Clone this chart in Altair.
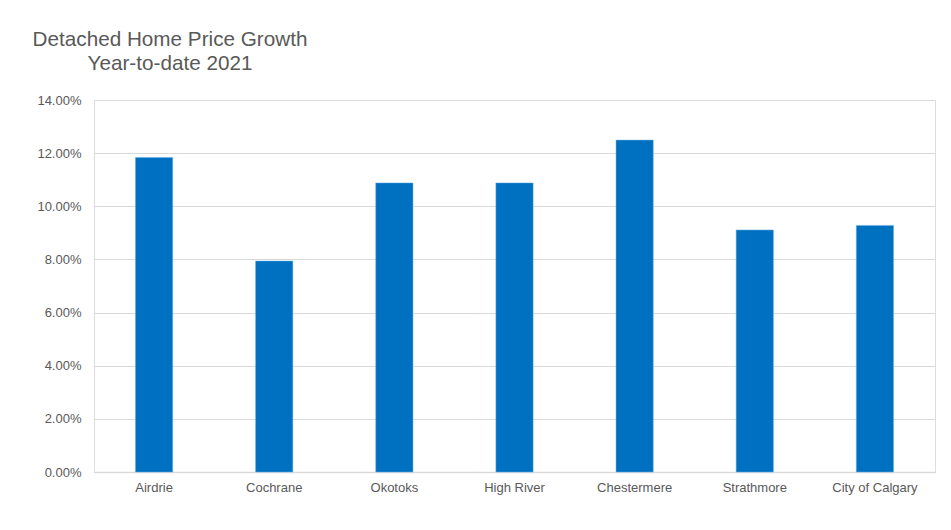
import altair as alt
import pandas as pd

regions = ["Airdrie", "Cochrane", "Okotoks", "High River", "Chestermere", "Strathmore", "City of Calgary"]
growth = [0.1184, 0.0794, 0.1088, 0.1088, 0.1249, 0.0911, 0.0928]
y_ticks = [0.0, 0.02, 0.04, 0.06, 0.08, 0.10, 0.12, 0.14]

df = pd.DataFrame({"region": regions, "growth": growth})

FONT = "Liberation Sans"
GRAY = "#595959"

chart = (
    alt.Chart(df)
    .mark_bar(color="#0070C0", stroke="#6aaee6", strokeWidth=0.5)
    .encode(
        x=alt.X("region:N", sort=regions, title=None,
                scale=alt.Scale(paddingInner=0.69, paddingOuter=0.345),
                axis=alt.Axis(labelAngle=0, labelFont=FONT, labelFontSize=13, labelColor=GRAY,
                              labelPadding=9, ticks=False, domainColor="#d9d9d9", domainWidth=1.5,
                              grid=False)),
        y=alt.Y("growth:Q", title=None,
                scale=alt.Scale(domain=[0, 0.14], nice=False),
                axis=alt.Axis(values=y_ticks, format=".2%", labelFont=FONT, labelFontSize=13,
                              labelColor=GRAY, labelPadding=13, ticks=False, domain=False,
                              gridColor="#d9d9d9", gridWidth=1)),
    )
    .properties(
        width=841,
        height=372,
        padding={"left": 86, "top": 92, "right": 8, "bottom": 40},
        autosize=alt.AutoSizeParams(type="none"),
        title=alt.TitleParams(
            text=["Detached Home Price Growth", "Year-to-date 2021"],
            anchor="start", frame="group", align="center", dx=76,
            font=FONT, fontSize=20.7, fontWeight="normal", color=GRAY,
            lineHeight=24, baseline="bottom", offset=-1,
        ),
    )
    .configure_view(stroke="#d9d9d9", strokeWidth=1.5)
    .configure(background="white")
)

chart.save("out.html", embed_options={"renderer": "svg", "actions": False})
